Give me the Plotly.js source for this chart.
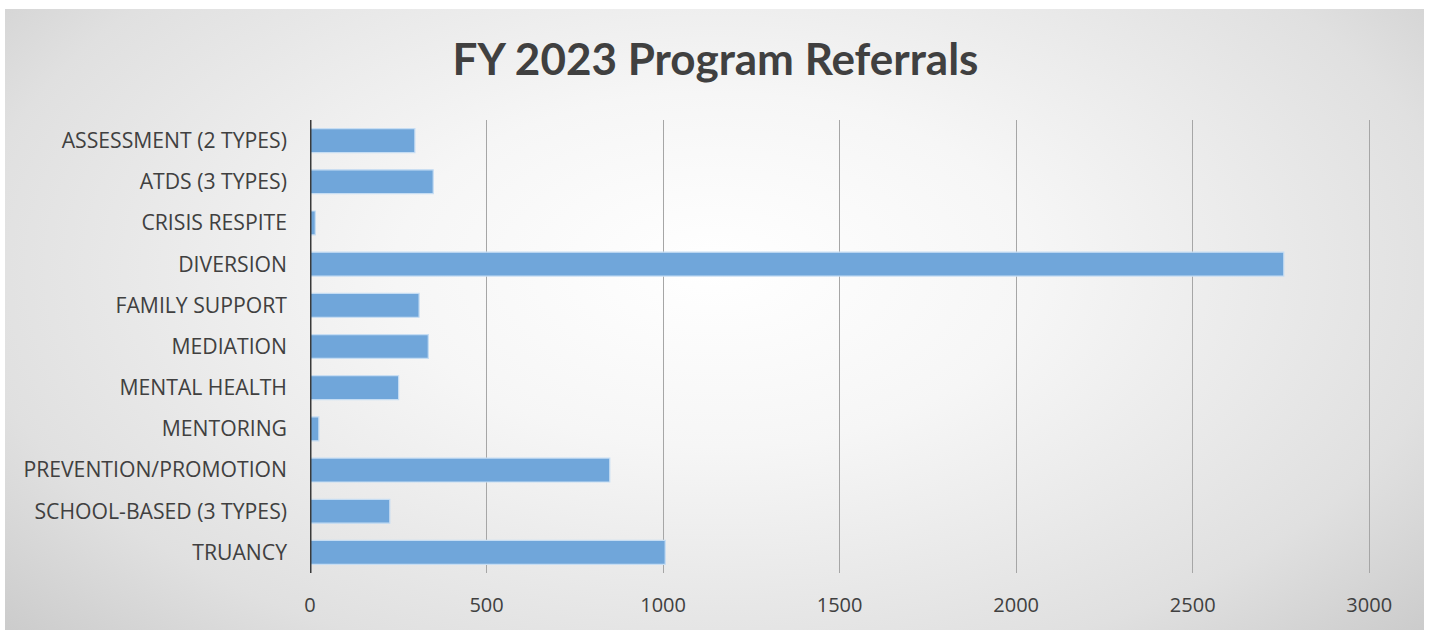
<!DOCTYPE html>
<html>
<head>
<meta charset="utf-8">
<script src="https://cdn.plot.ly/plotly-3.0.1.min.js"></script>
<style>
html, body { margin: 0; padding: 0; background: #ffffff; width: 1431px; height: 630px; overflow: hidden; }
#frame { position: absolute; left: 5px; top: 9px; width: 1419px; height: 621px;
  background: radial-gradient(ellipse 75% 95% at 50% 42%, #ffffff 0%, #f6f6f6 30%, #e0e0e0 70%, #c2c2c2 100%); }
#chart { position: absolute; left: 0; top: 0; width: 1431px; height: 630px; }
</style>
</head>
<body>
<div id="frame"></div>
<div id="chart"></div>
<script>
const categories = [
  "ASSESSMENT (2 TYPES)",
  "ATDS (3 TYPES)",
  "CRISIS RESPITE",
  "DIVERSION",
  "FAMILY SUPPORT",
  "MEDIATION",
  "MENTAL HEALTH",
  "MENTORING",
  "PREVENTION/PROMOTION",
  "SCHOOL-BASED (3 TYPES)",
  "TRUANCY"
];
const referrals = [297, 349, 15, 2758, 309, 335, 251, 25, 849, 226, 1006];
const tickValues = [0, 500, 1000, 1500, 2000, 2500, 3000];
const tickLabels = ["0", "500", "1000", "1500", "2000", "2500", "3000"];

const trace = {
  type: "bar",
  orientation: "h",
  y: categories,
  x: referrals,
  width: 0.58,
  marker: { color: "#70a6da", line: { color: "#c6ddf3", width: 1.2 } },
  hoverinfo: "x+y"
};

const layout = {
  width: 1431, height: 630,
  paper_bgcolor: "rgba(0,0,0,0)",
  plot_bgcolor: "rgba(0,0,0,0)",
  margin: { l: 309.5, r: 60, t: 120, b: 57 },
  title: {
    text: "<b>FY 2023 Program Referrals</b>",
    font: { family: "Lato, 'Open Sans', sans-serif", size: 44, color: "#404040" },
    x: 0.5, xanchor: "center", y: 0.905, yanchor: "middle"
  },
  showlegend: false,
  bargap: 0.42,
  xaxis: {
    range: [0, 3005],
    tickvals: tickValues,
    ticktext: tickLabels,
    showgrid: true,
    gridcolor: "#a6a6a6",
    gridwidth: 1,
    zeroline: false,
    showline: false,
    ticks: "",
    tickfont: { family: "'Open Sans', sans-serif", size: 20, color: "#404040" },
    ticklabelstandoff: 18,
    fixedrange: true
  },
  yaxis: {
    type: "category",
    autorange: "reversed",
    showgrid: false,
    zeroline: false,
    showline: false,
    ticks: "",
    ticklabelstandoff: 22,
    tickfont: { family: "'Open Sans', sans-serif", size: 21.2, color: "#404040" },
    fixedrange: true
  },
  shapes: [
    { type: "line", xref: "x", yref: "paper", x0: 0, x1: 0, y0: 0, y1: 1,
      line: { color: "#3a3a3a", width: 3 } }
  ]
};

Plotly.newPlot("chart", [trace], layout, { displayModeBar: false, staticPlot: true });
</script>
</body>
</html>
